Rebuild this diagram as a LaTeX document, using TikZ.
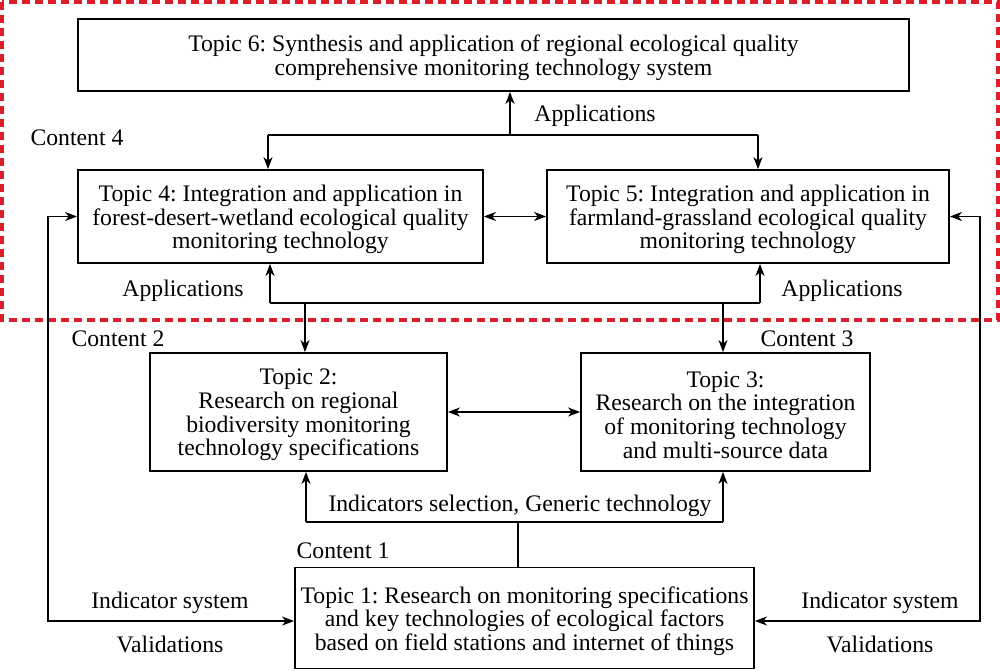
\documentclass[tikz,border=0pt]{standalone}
\usepackage{fontspec}
\setmainfont{Liberation Serif}
\usetikzlibrary{arrows.meta}
\definecolor{dashred}{RGB}{220,30,40}
\frenchspacing
\begin{document}
\begin{tikzpicture}[x=0.5pt,y=-0.5pt,
  font=\fontsize{11.85pt}{11.8pt}\selectfont,
  box/.style={draw,line width=0.9pt,inner sep=0pt},
  txt/.style={inner sep=0pt,align=center},
  lbl/.style={inner sep=0pt},
  conn/.style={line width=0.75pt},
  arr/.style={conn,-{Stealth[length=6pt,width=4.5pt,inset=1.8pt]}},
  dbl/.style={conn,{Stealth[length=6pt,width=4.5pt,inset=1.8pt]}-{Stealth[length=6pt,width=4.5pt,inset=1.8pt]}}]
\useasboundingbox (0,0) rectangle (1000,670);
\draw[dashred,line width=1.6pt,dash pattern=on 4pt off 2.5pt] (2,2) rectangle (998,320);

\node[box,minimum width=415.5pt,minimum height=36pt] (T6) at (493.5,55) {};
\node[box,minimum width=202.5pt,minimum height=46.5pt] (T4) at (280.5,216.5) {};
\node[box,minimum width=201pt,minimum height=46.5pt] (T5) at (748,216.5) {};
\node[box,minimum width=148.5pt,minimum height=59pt] (T2) at (298.5,412) {};
\node[box,minimum width=144.5pt,minimum height=59pt] (T3) at (725.5,412) {};
\node[box,minimum width=229.5pt,minimum height=50.5pt] (T1) at (524.5,618) {};

\node[txt] (T6t) at ([yshift=-1.5pt]T6.center)
  {Topic 6: Synthesis and application of regional ecological quality\\comprehensive monitoring technology system};
\node[txt] (T4t) at ([yshift=-1.5pt]T4.center)
  {Topic 4: Integration and application in\\forest-desert-wetland ecological quality\\monitoring technology};
\node[txt] (T5t) at ([yshift=-1.5pt]T5.center)
  {Topic 5: Integration and application in\\farmland-grassland ecological quality\\monitoring technology};
\node[txt] (T2t) at ([yshift=-1.5pt]T2.center)
  {Topic 2:\\Research on regional\\biodiversity monitoring\\technology specifications};
\node[txt] (T3t) at ([yshift=-1.5pt]T3.center)
  {Topic 3:\\Research on the integration\\of monitoring technology\\and multi-source data};
\node[txt] (T1t) at ([yshift=-1.5pt]T1.center)
  {Topic 1: Research on monitoring specifications\\and key technologies of ecological factors\\based on field stations and internet of things};

% labels
\node[lbl] (lA6) at (595,115.5) {Applications};
\node[lbl] (lC4) at (77,137.5) {Content 4};
\node[lbl] (lA4) at (183,290.5) {Applications};
\node[lbl] (lA5) at (842,290.5) {Applications};
\node[lbl] (lC2) at (118,338.5) {Content 2};
\node[lbl] (lC3) at (807,338.5) {Content 3};
\node[lbl] (lIG) at (520,505.5) {Indicators selection, Generic technology};
\node[lbl] (lC1) at (343,550.5) {Content 1};
\node[lbl] (lIL) at (170,602.5) {Indicator system};
\node[lbl] (lVL) at (170,644.5) {Validations};
\node[lbl] (lIR) at (880,602.5) {Indicator system};
\node[lbl] (lVR) at (880,644.5) {Validations};

% top applications
\coordinate (j6) at (510,135);
\coordinate (j4) at (268,135);
\coordinate (j5) at (758,135);
\draw[conn] (j4) -- (j5);
\draw[arr] (j6) -- (j6 |- T6.south);
\draw[arr] (j4) -- (j4 |- T4.north);
\draw[arr] (j5) -- (j5 |- T5.north);
\draw[dbl] (T4.east) -- (T5.west);

% side loops
\coordinate (lb) at (48,621);
\coordinate (rb) at (980,621);
\draw[dbl] (T4.west) -| (lb) -- (lb -| T1.west);
\draw[dbl] (T5.east) -| (rb) -- (rb -| T1.east);

% lower applications
\coordinate (a4) at (270,303);
\coordinate (a5) at (760,303);
\coordinate (d2) at (305,303);
\coordinate (d3) at (723,303);
\draw[conn] (a4) -- (a5);
\draw[arr] (a4) -- (a4 |- T4.south);
\draw[arr] (a5) -- (a5 |- T5.south);
\draw[arr] (d2) -- (d2 |- T2.north);
\draw[arr] (d3) -- (d3 |- T3.north);
\draw[dbl] (T2.east) -- (T3.west);

% bottom
\coordinate (b2) at (306,522);
\coordinate (b3) at (723,522);
\coordinate (b1) at (518,522);
\draw[conn] (b2) -- (b3);
\draw[arr] (b2) -- (b2 |- T2.south);
\draw[arr] (b3) -- (b3 |- T3.south);
\draw[conn] (b1) -- (b1 |- T1.north);
\end{tikzpicture}
\end{document}
